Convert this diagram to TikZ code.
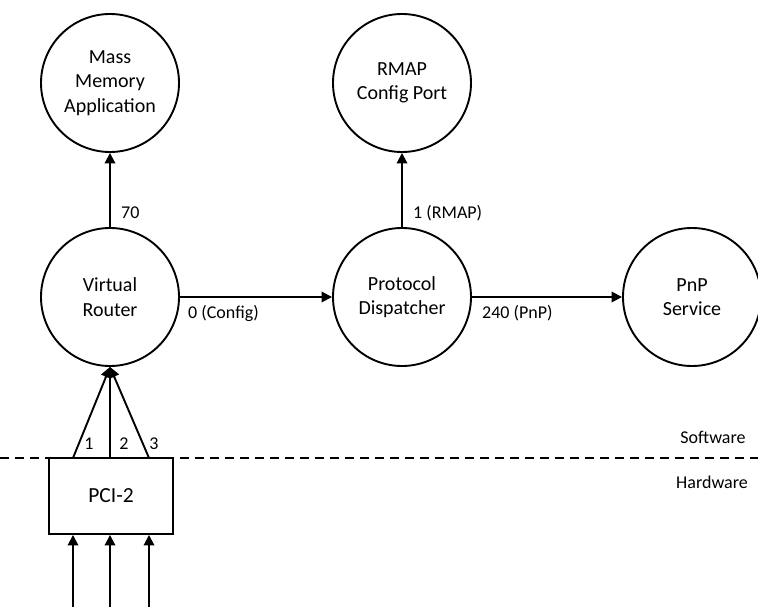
\documentclass[tikz,border=0pt]{standalone}
\usepackage{fontspec}
\setmainfont{Carlito}
\usetikzlibrary{arrows.meta}
\begin{document}
\begin{tikzpicture}[x=1pt,y=-1pt,
  proc/.style={circle,draw,line width=1.9pt,minimum size=138pt,inner sep=0pt,align=center,font=\fontsize{20}{24.5}\selectfont},
  hwbox/.style={draw,line width=1.9pt,minimum width=124pt,minimum height=76pt,inner sep=0pt,font=\fontsize{21.5}{26}\selectfont},
  conn/.style={line width=1.9pt,-{Triangle[length=10.5pt,width=10.5pt]}},
  lbl/.style={font=\fontsize{18}{22}\selectfont,inner sep=0pt},
  divider/.style={line width=1.9pt,dash pattern=on 9pt off 6pt}]
\useasboundingbox (0,0) rectangle (758,607);
\node[proc] (mm) at (110,83) {Mass\\Memory\\Application};
\node[proc] (vr) at (110,297) {Virtual\\Router};
\node[proc] (rmap) at (402,83) {RMAP\\Config Port};
\node[proc] (pd) at (402,297) {Protocol\\Dispatcher};
\node[proc] (pnp) at (692,297) {PnP\\Service};
\node[hwbox] (pci) at (111,496) {PCI-2};
\coordinate (divl) at (0,458);
\coordinate (divr) at (758,458);
\draw[divider] (divl) -- (divr);
\node[lbl] (sw) at (713,437) {Software};
\node[lbl] (hw) at (712,482) {Hardware};
\draw[conn] (vr) -- (mm);
\node[lbl,anchor=west] (l70) at (121,213) {70};
\draw[conn] (pd) -- (rmap);
\node[lbl,anchor=west] (lrmap) at (413,213) {1 (RMAP)};
\draw[conn] (vr) -- (pd);
\node[lbl,anchor=west] (lcfg) at (188,313) {0 (Config)};
\draw[conn] (pd) -- (pnp);
\node[lbl,anchor=west] (lpnp) at (482,313) {240 (PnP)};
\coordinate (p1) at (73,458);
\coordinate (p2) at (110,458);
\coordinate (p3) at (149,458);
\draw[conn] (p1) -- (vr.south);
\draw[conn] (p2) -- (vr.south);
\draw[conn] (p3) -- (vr.south);
\node[lbl] (n1) at (89,444) {1};
\node[lbl] (n2) at (124,444) {2};
\node[lbl] (n3) at (154,444) {3};
\coordinate (i1) at (73,607);
\coordinate (i2) at (110,607);
\coordinate (i3) at (149,607);
\draw[conn] (i1) -- (i1 |- pci.south);
\draw[conn] (i2) -- (i2 |- pci.south);
\draw[conn] (i3) -- (i3 |- pci.south);
\end{tikzpicture}
\end{document}
